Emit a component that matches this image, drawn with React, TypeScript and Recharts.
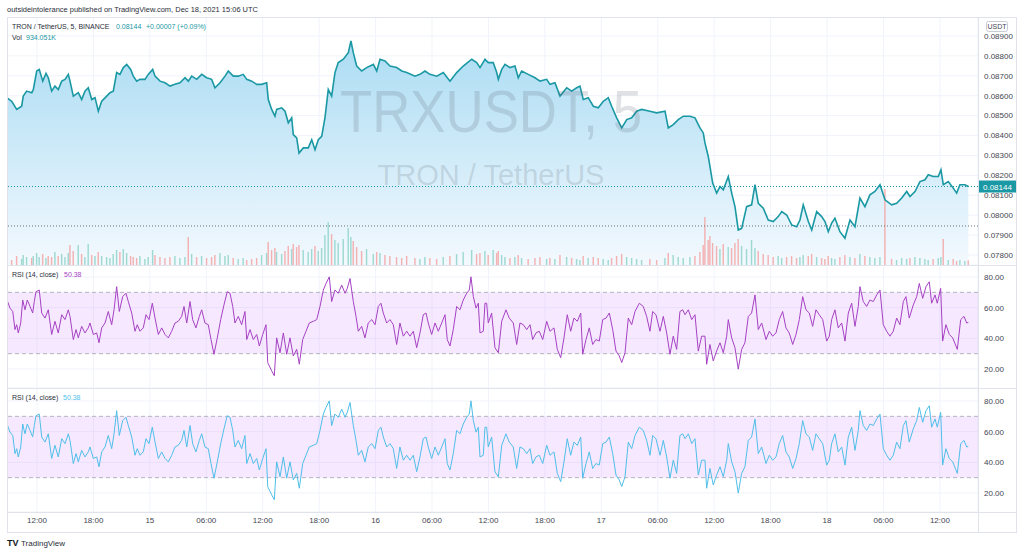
import React from "react";
import {
  ComposedChart,
  LineChart,
  Area,
  Bar,
  Line,
  Cell,
  XAxis,
  YAxis,
  CartesianGrid,
  ReferenceLine,
  ReferenceArea,
} from "recharts";

// hours counted from Dec 14 00:00 UTC
const priceHours = [
  8.78, 9.31, 9.84, 10.37, 10.54, 10.9, 11.44, 11.61, 11.97, 12.24,
  12.61, 12.96, 13.2, 13.56, 13.91, 14.26, 14.63, 14.98, 15.33, 15.51,
  15.86, 16.39, 16.75, 17.1, 17.45, 17.82, 18.17, 18.52, 18.88, 19.41,
  19.76, 20.11, 20.47, 20.82, 21.18, 21.54, 21.96, 22.24, 22.6, 22.95,
  23.48, 23.83, 24.3, 24.55, 25.08, 25.61, 26.14, 26.67, 27.2, 27.74,
  28.09, 28.45, 28.98, 29.51, 30.04, 30.57, 30.92, 31.46, 31.99, 32.34,
  32.87, 33.4, 33.93, 34.3, 34.83, 35.36, 35.89, 36.42, 36.59, 36.95,
  37.3, 37.48, 38.02, 38.37, 38.72, 39.08, 39.25, 39.61, 39.86, 40.31,
  40.84, 41.21, 41.56, 41.91, 42.27, 42.62, 42.97, 43.33, 43.68, 44.03,
  44.57, 45.1, 45.38, 45.63, 45.99, 46.52, 47.05, 47.76, 48.12, 48.47,
  49.0, 49.53, 50.24, 50.78, 51.31, 52.19, 52.72, 53.25, 53.78, 54.5,
  55.2, 55.91, 56.62, 57.32, 58.22, 58.75, 59.1, 59.63, 59.98, 60.51,
  60.88, 61.05, 61.41, 61.76, 62.29, 62.82, 63.17, 63.53, 64.23, 64.95,
  65.48, 66.19, 66.54, 67.07, 67.61, 68.32, 68.85, 69.38, 69.73, 70.08,
  70.61, 71.15, 71.68, 72.21, 72.74, 73.1, 73.63, 74.17, 74.7, 75.23,
  75.76, 76.29, 77.17, 77.89, 78.77, 79.12, 79.65, 80.18, 80.72, 81.43,
  81.96, 82.49, 82.84, 83.02, 83.37, 83.55, 83.84, 84.26, 84.62, 84.97,
  85.5, 85.86, 86.21, 86.56, 86.92, 87.45, 87.98, 88.34, 88.69, 89.22,
  89.75, 90.28, 90.81, 91.18, 91.71, 92.24, 92.77, 93.12, 93.47, 94.01,
  94.37, 94.9, 95.43, 95.78, 96.13, 96.49, 96.84, 97.37, 97.9, 98.44,
  98.97, 99.5, 100.03, 100.56, 101.09, 101.63, 102.16, 102.87, 103.4, 103.94,
  104.47, 104.82, 105.35, 105.88, 106.41, 106.76, 107.29, 107.83, 108.11, 108.36,
  108.89, 109.42, 109.78, 110.13, 110.66, 111.02,
];

const priceCloses = [
  0.0859, 0.08572, 0.08531, 0.08547, 0.08598, 0.08623, 0.08615, 0.08631, 0.08724, 0.08732,
  0.08673, 0.08712, 0.0869, 0.08623, 0.08648, 0.08631, 0.08673, 0.08682, 0.08707, 0.08673,
  0.08598, 0.08615, 0.08581, 0.08623, 0.0864, 0.08581, 0.0859, 0.08522, 0.08572, 0.08598,
  0.08615, 0.08623, 0.08716, 0.08707, 0.08741, 0.08757, 0.08732, 0.08698, 0.08673, 0.08682,
  0.08682, 0.08707, 0.08732, 0.08698, 0.08673, 0.08665, 0.08648, 0.08657, 0.08665, 0.0869,
  0.08673, 0.08698, 0.08682, 0.08707, 0.0869, 0.08682, 0.0864, 0.08665, 0.08698, 0.08724,
  0.08698, 0.08698, 0.08707, 0.08682, 0.08673, 0.08657, 0.08657, 0.08665, 0.08581, 0.08531,
  0.08497, 0.08531, 0.08539, 0.08522, 0.08464, 0.08489, 0.08405, 0.08388, 0.08312, 0.08338,
  0.08338, 0.08379, 0.08329, 0.08379, 0.08396, 0.0849, 0.08631, 0.08598, 0.08716, 0.08766,
  0.08783, 0.08816, 0.08875, 0.08816, 0.08749, 0.08724, 0.08741, 0.08757, 0.08724, 0.08783,
  0.08774, 0.08749, 0.08741, 0.08724, 0.08716, 0.08698, 0.08707, 0.08724, 0.08707, 0.08698,
  0.08716, 0.08673, 0.08716, 0.08749, 0.08783, 0.08766, 0.08741, 0.08783, 0.08766, 0.08766,
  0.08716, 0.08682, 0.08732, 0.08757, 0.08741, 0.08749, 0.0869, 0.08724, 0.08707, 0.0869,
  0.08673, 0.08682, 0.08657, 0.08665, 0.08598, 0.0864, 0.08623, 0.0864, 0.08648, 0.08581,
  0.0859, 0.08547, 0.08539, 0.08572, 0.0859, 0.08547, 0.08489, 0.08438, 0.0848, 0.08489,
  0.08522, 0.08531, 0.08522, 0.08514, 0.08522, 0.08438, 0.08455, 0.0848, 0.08497, 0.08497,
  0.08489, 0.08438, 0.08413, 0.08363, 0.08295, 0.08245, 0.08161, 0.08111, 0.08144, 0.08127,
  0.08194, 0.08111, 0.08043, 0.07926, 0.07934, 0.08043, 0.08052, 0.08153, 0.0806, 0.08035,
  0.07976, 0.07968, 0.07993, 0.08018, 0.08001, 0.07951, 0.07942, 0.07976, 0.08052, 0.07968,
  0.07926, 0.08018, 0.07993, 0.07968, 0.07917, 0.0796, 0.07985, 0.07917, 0.07884, 0.07976,
  0.07942, 0.08086, 0.08043, 0.08102, 0.08119, 0.08153, 0.08077, 0.08052, 0.0806, 0.08086,
  0.08119, 0.08094, 0.08119, 0.08169, 0.08178, 0.08203, 0.08194, 0.08194, 0.08228, 0.08153,
  0.08169, 0.08136, 0.08111, 0.08153, 0.08153, 0.08144,
];

// volume in thousands of TRX
const volumesK = [
  1400, 1000, 1800, 1200, 2000, 1600, 1400, 1800, 2400, 1600,
  2200, 1400, 1800, 1600, 2600, 1800, 2200, 1600, 2400, 4000,
  2800, 4000, 2200, 1600, 4200, 2000, 1800, 2600, 1800, 1600,
  1400, 2200, 3000, 2600, 3200, 2400, 1800, 1600, 1400, 1800,
  1200, 1600, 3000, 2000, 1600, 1400, 1600, 1800, 1400, 1600,
  5600, 2200, 1600, 1800, 1400, 1600, 2000, 2400, 1800, 2000,
  1400, 1200, 1400, 1000, 1200, 1400, 2000, 2400, 4600, 3000,
  3400, 2600, 2200, 2800, 3800, 3200, 4200, 3600, 4000, 3000,
  2600, 3200, 3800, 2800, 3400, 6000, 8600, 6200, 5000, 4400,
  5200, 7400, 5600, 4800, 3600, 2800, 3200, 2200, 2600, 2400,
  2000, 1800, 1600, 1400, 1800, 1400, 1200, 1600, 1400, 1200,
  1600, 1800, 2200, 2600, 3000, 2200, 2400, 2800, 2000, 3000,
  2400, 2800, 2000, 1600, 1400, 1600, 2000, 1400, 1200, 1400,
  1600, 1200, 1400, 1200, 2000, 1600, 1400, 1200, 1000, 1800,
  1400, 1600, 1400, 1200, 1000, 1400, 1800, 2200, 1600, 1400,
  1200, 1000, 1200, 1000, 1400, 2400, 2000, 1600, 1400, 1600,
  1800, 2600, 4000, 9600, 5000, 5800, 4400, 3800, 3200, 4200,
  3600, 3400, 4400, 5200, 3800, 3200, 5000, 3400, 2800, 2200,
  2000, 1600, 1800, 1400, 1600, 1800, 1400, 1600, 2000, 1800,
  2200, 1600, 1400, 1200, 1800, 1400, 1200, 1600, 2000, 1600,
  1400, 2200, 1800, 1600, 1400, 1600, 15200, 1200, 1000, 1400,
  1200, 1400, 1600, 1400, 1200, 1000, 1200, 1400, 1600, 5200,
  1000, 1200, 800, 1000, 800, 934,
];

const rsiHours = [
  8.78, 9.13, 9.42, 9.66, 9.84, 10.01, 10.27, 10.48, 10.72, 10.97,
  11.26, 11.54, 11.71, 11.89, 12.24, 12.5, 12.85, 13.2, 13.56, 13.91,
  14.26, 14.63, 14.98, 15.33, 15.51, 15.86, 16.15, 16.39, 16.75, 17.1,
  17.45, 17.63, 17.99, 18.35, 18.59, 18.88, 19.23, 19.58, 19.94, 20.19,
  20.47, 20.75, 21.11, 21.46, 21.71, 22.07, 22.42, 22.66, 22.95, 23.3,
  23.59, 23.91, 24.26, 24.55, 24.9, 25.26, 25.61, 25.96, 26.32, 26.67,
  27.02, 27.38, 27.63, 27.92, 28.27, 28.55, 28.9, 29.26, 29.51, 29.86,
  30.21, 30.5, 30.82, 31.17, 31.53, 31.88, 32.23, 32.52, 32.81, 33.05,
  33.4, 33.76, 34.11, 34.3, 34.65, 35.0, 35.36, 35.64, 36.0, 36.35,
  36.53, 36.95, 37.23, 37.48, 37.84, 38.19, 38.55, 38.9, 39.25, 39.61,
  39.89, 40.25, 40.6, 40.95, 41.38, 41.74, 42.09, 42.44, 42.73, 43.08,
  43.33, 43.68, 44.03, 44.4, 44.75, 44.99, 45.28, 45.63, 45.92, 46.16,
  46.52, 46.87, 47.22, 47.59, 47.94, 48.29, 48.57, 48.82, 49.18, 49.53,
  49.88, 50.24, 50.59, 50.95, 51.31, 51.66, 52.01, 52.37, 52.72, 53.07,
  53.36, 53.6, 53.96, 54.32, 54.67, 55.03, 55.38, 55.62, 55.91, 56.26,
  56.62, 56.97, 57.32, 57.69, 57.96, 58.14, 58.39, 58.68, 58.92, 59.1,
  59.45, 59.63, 59.81, 59.98, 60.34, 60.69, 61.05, 61.41, 61.86, 62.21,
  62.64, 63.0, 63.35, 63.7, 64.07, 64.42, 64.7, 65.05, 65.4, 65.77,
  66.19, 66.54, 66.97, 67.32, 67.68, 68.03, 68.38, 68.74, 69.09, 69.45,
  69.81, 70.02, 70.37, 70.72, 71.08, 71.43, 71.78, 72.15, 72.5, 72.85,
  73.21, 73.56, 73.91, 74.17, 74.52, 74.87, 75.23, 75.58, 76.04, 76.46,
  76.82, 77.17, 77.46, 77.81, 78.24, 78.59, 78.95, 79.3, 79.65, 80.01,
  80.36, 80.65, 80.9, 81.25, 81.61, 81.96, 82.31, 82.67, 83.02, 83.2,
  83.55, 83.9, 84.26, 84.62, 84.97, 85.33, 85.5, 85.86, 86.21, 86.56,
  86.92, 87.27, 87.63, 87.98, 88.34, 88.69, 89.05, 89.51, 89.86, 90.22,
  90.57, 90.92, 91.28, 91.63, 91.98, 92.35, 92.7, 93.05, 93.41, 93.76,
  94.11, 94.47, 94.82, 95.17, 95.54, 95.96, 96.24, 96.49, 96.84, 97.19,
  97.56, 97.91, 98.26, 98.62, 98.97, 99.32, 99.5, 99.85, 100.21, 100.56,
  100.92, 101.28, 101.63, 101.98, 102.34, 102.69, 103.04, 103.4, 103.75, 104.11,
  104.39, 104.74, 105.17, 105.53, 105.81, 106.17, 106.52, 106.87, 107.12, 107.48,
  107.72, 108.08, 108.29, 108.64, 109.0, 109.36, 109.85, 110.21, 110.56, 110.85,
  111.02,
];

const rsiValues = [
  65.5, 59.7, 57.5, 45.7, 48.9, 43.5, 50, 65, 58.6, 65,
  60.8, 56.5, 64, 70.4, 71.5, 56.5, 53.2, 58.6, 42.5, 51.1,
  43.5, 55.4, 52.2, 58.6, 54.3, 39.2, 45.7, 40.3, 47.8, 43.5,
  46.8, 50, 42.5, 43.5, 37.1, 46.8, 50, 57.5, 48.9, 58.6,
  73.7, 57.5, 67.2, 69.4, 64, 56.5, 44.6, 48.9, 44.6, 46.8,
  55.4, 52.2, 62.9, 53.2, 42.5, 46.8, 42.5, 40.3, 44.6, 50,
  51.1, 54.3, 60.8, 50, 64, 52.2, 46.8, 54.3, 58.6, 50,
  48.9, 39.2, 29.6, 40.3, 52.2, 61.8, 70.4, 69.4, 60.8, 50,
  54.3, 48.9, 57.5, 39.2, 45.7, 39.2, 42.5, 35, 42.5, 48.9,
  24.2, 18.8, 15.6, 40.3, 30.6, 43.5, 29.6, 40.3, 28.5, 32.8,
  23.1, 39.2, 44.6, 50, 51.1, 52.2, 60.8, 71.5, 75.8, 80.1,
  64, 71.5, 69.4, 74.7, 69.4, 72.6, 79, 64, 54.3, 44.6,
  47.8, 40.3, 50, 52.2, 48.9, 60.8, 62.9, 56.5, 50, 52.2,
  48.9, 36, 50, 41.4, 44.6, 41.4, 44.6, 33.9, 43.5, 55.4,
  56.5, 50, 42.5, 50, 44.6, 50, 55.4, 39.2, 35, 45.7,
  60.8, 58.6, 65, 69.4, 71.5, 80.1, 67.2, 59.7, 62.9, 43.5,
  44.6, 62.9, 62.9, 50, 56.5, 33.9, 30.6, 51.1, 58.6, 53.2,
  50, 36, 50, 48.9, 45.7, 48.9, 39.2, 43.5, 44.6, 39.2,
  51.1, 44.6, 46.8, 32.8, 27.4, 40.3, 55.4, 44.6, 53.2, 51.1,
  56.5, 29.6, 39.2, 46.8, 36, 39.2, 38.2, 52.2, 53.2, 56.5,
  45.7, 31.7, 28.5, 24.2, 30.6, 53.2, 48.9, 57.5, 62.9, 60.8,
  54.3, 44.6, 57.5, 55.4, 44.6, 54.3, 43.5, 29.6, 41.4, 32.8,
  57.5, 58.6, 55.4, 58.6, 52.2, 55.4, 31.7, 41.4, 41.4, 23.1,
  36, 25.3, 31.7, 37.1, 30.6, 41.4, 52.2, 40.3, 33.9, 19.9,
  32.8, 37.1, 54.3, 56.5, 68.3, 45.7, 50, 39.2, 44.6, 41.4,
  43.5, 52.2, 57.5, 46.8, 43.5, 36, 42.5, 52.2, 67.2, 58.6,
  56.5, 47.8, 58.6, 55.4, 52.2, 38.2, 41.4, 52.2, 58.6, 46.8,
  50, 38.2, 56.5, 62.9, 47.8, 60.8, 73.7, 64, 60.8, 65,
  64, 68.3, 71.5, 48.9, 44.6, 41.4, 44.6, 53.2, 48.9, 64,
  67.2, 53.2, 61.8, 67.2, 75.8, 66.1, 73.7, 76.9, 62.9, 68.3,
  62.9, 72.6, 38.2, 48.9, 42.5, 40.3, 32.8, 52.2, 54.3, 50,
  50.38,
];

const priceTicks = [0.078, 0.079, 0.08, 0.081, 0.082, 0.083, 0.084, 0.085, 0.086, 0.087, 0.088, 0.089];
const rsiTicks = [20, 40, 60, 80];
const timeTicks = [12, 18, 24, 30, 36, 42, 48, 54, 60, 66, 72, 78, 84, 90, 96, 102, 108];
const lastPrice = 0.08144;
const markedLevel = 0.07946;

const priceData = priceHours.map((t, i) => ({
  t,
  close: priceCloses[i],
  vol: volumesK[i] ?? 0,
  up: i === 0 || priceCloses[i] >= priceCloses[i - 1],
}));
const rsiData = rsiHours.map((t, i) => ({ t, rsi: rsiValues[i] }));

const FONT = "'Liberation Sans', Arial, sans-serif";
const TEAL = "#1a98a3";
const PURPLE = "#a641c4";
const SKY = "#4fbfe9";
const GRID = "#f0f3fa";
const BORDER = "#e0e3eb";
const TEXT = "#434651";
const timeDomain: [number, number] = [8.81, 112.05];
const tickStyle = { fontSize: 8, fill: TEXT, fontFamily: FONT };

const fmtTime = (h: number) => {
  const day = Math.floor(h / 24);
  const hh = h - day * 24;
  if (hh === 0) return String(14 + day);
  return String(hh).padStart(2, "0") + ":00";
};

const PriceTag = (props: any) => {
  const vb = props.viewBox || {};
  const x = vb.x + vb.width;
  const y = vb.y;
  return (
    <g>
      <rect x={x + 1} y={y - 6} width={37} height={12} fill={TEAL} />
      <text x={x + 5} y={y + 3} fontSize={8} fill="#fff" fontFamily={FONT}>
        {lastPrice.toFixed(5)}
      </text>
    </g>
  );
};

const RsiPane = ({ color, height, domainTop, withTime }: any) => (
  <LineChart width={1010} height={height} data={rsiData} margin={{ top: 0, right: 0, bottom: 0, left: 0 }}>
    <CartesianGrid stroke={GRID} />
    <XAxis
      type="number"
      dataKey="t"
      domain={timeDomain}
      ticks={timeTicks}
      allowDataOverflow
      hide={!withTime}
      height={21}
      interval={0}
      tickFormatter={fmtTime}
      axisLine={false}
      tickLine={false}
      tickSize={3}
      tickMargin={2}
      tick={tickStyle}
    />
    <YAxis
      orientation="right"
      width={39}
      domain={[7.6, domainTop]}
      ticks={rsiTicks}
      interval={0}
      allowDataOverflow
      tickFormatter={(v: number) => v.toFixed(2)}
      axisLine={false}
      tickLine={false}
      tickSize={4}
      tickMargin={2}
      tick={tickStyle}
    />
    <ReferenceArea y1={30} y2={70} fill="#c77dff" fillOpacity={0.17} stroke="none" />
    <ReferenceLine y={70} stroke="#b2b5be" strokeDasharray="4 3" />
    <ReferenceLine y={30} stroke="#b2b5be" strokeDasharray="4 3" />
    <Line type="linear" dataKey="rsi" stroke={color} strokeWidth={1} dot={false} isAnimationActive={false} />
  </LineChart>
);

export default function App() {
  return (
    <div style={{ position: "absolute", left: 0, top: 0, width: 1024, height: 551, background: "#fff", overflow: "hidden", fontFamily: FONT }}>
      <div style={{ position: "absolute", left: 7, top: 17 }}>
        <ComposedChart width={1010} height={248} data={priceData} margin={{ top: 0, right: 0, bottom: 0, left: 0 }}>
          <defs>
            <linearGradient id="priceFill" x1="0" y1="0" x2="0" y2="1">
              <stop offset="0%" stopColor="#abdcf3" />
              <stop offset="100%" stopColor="#f3f9fe" />
            </linearGradient>
          </defs>
          <CartesianGrid stroke={GRID} yAxisId="price" />
          <XAxis type="number" dataKey="t" domain={timeDomain} ticks={timeTicks} allowDataOverflow hide />
          <YAxis
            yAxisId="price"
            orientation="right"
            width={39}
            domain={[0.0775, 0.08995]}
            ticks={priceTicks}
            interval={0}
            allowDataOverflow
            tickFormatter={(v: number) => v.toFixed(5)}
            axisLine={false}
            tickLine={false}
            tickSize={4}
            tickMargin={2}
            tick={tickStyle}
          />
          <YAxis yAxisId="vol" hide domain={[0, 49600]} />
          <Area yAxisId="price" type="linear" dataKey="close" stroke="none" fill="url(#priceFill)" fillOpacity={1} isAnimationActive={false} />
          <Bar yAxisId="vol" dataKey="vol" barSize={3} isAnimationActive={false}>
            {priceData.map((d, i) => (
              <Cell key={`v-${i}`} fill={d.up ? "#8fd3c9" : "#f5a5a4"} fillOpacity={0.85} />
            ))}
          </Bar>
          <ReferenceLine yAxisId="price" y={markedLevel} stroke="#6a6d78" strokeDasharray="1 2" />
          <ReferenceLine yAxisId="price" y={lastPrice} stroke={TEAL} strokeDasharray="1 2" label={<PriceTag />} />
          <Line yAxisId="price" type="linear" dataKey="close" stroke={TEAL} strokeWidth={1.6} dot={false} isAnimationActive={false} />
        </ComposedChart>
      </div>
      <div style={{ position: "absolute", left: 7, top: 265 }}>
        <RsiPane color={PURPLE} height={123} domainTop={87.83} withTime={false} />
      </div>
      <div style={{ position: "absolute", left: 7, top: 388 }}>
        <RsiPane color={SKY} height={145} domainTop={88.48} withTime={true} />
      </div>

      {/* pane frame and separators */}
      <div style={{ position: "absolute", left: 7, top: 17, width: 1010, height: 516, border: `1px solid ${BORDER}`, boxSizing: "border-box" }} />
      <div style={{ position: "absolute", left: 7, top: 265, width: 1010, height: 1, background: BORDER }} />
      <div style={{ position: "absolute", left: 7, top: 388, width: 1010, height: 1, background: BORDER }} />
      <div style={{ position: "absolute", left: 7, top: 512, width: 1010, height: 1, background: BORDER }} />
      <div style={{ position: "absolute", left: 978, top: 17, width: 1, height: 516, background: BORDER }} />

      <svg width={1024} height={551} style={{ position: "absolute", left: 0, top: 0, pointerEvents: "none" }} fontFamily={FONT}>
        <text x={7} y={12} fontSize={8} fill="#2a2e39" textLength={251} lengthAdjust="spacingAndGlyphs">
          outsideintolerance published on TradingView.com, Dec 18, 2021 15:06 UTC
        </text>
        <text x={12} y={29} fontSize={7} fill="#2a2e39">TRON / TetherUS, 5, BINANCE</text>
        <text x={116} y={29} fontSize={7} fill={TEAL}>0.08144</text>
        <text x={146} y={29} fontSize={7} fill={TEAL}>+0.00007 (+0.09%)</text>
        <text x={12} y={40} fontSize={7} fill="#2a2e39">Vol</text>
        <text x={26} y={40} fontSize={7} fill={TEAL}>934.051K</text>

        <text x={491} y={132} fontSize={60} fill="#5d6b78" fillOpacity={0.2} textAnchor="middle" textLength={302} lengthAdjust="spacingAndGlyphs">
          TRXUSDT, 5
        </text>
        <text x={491} y={185} fontSize={30} fill="#5d6b78" fillOpacity={0.2} textAnchor="middle" textLength={227} lengthAdjust="spacingAndGlyphs">
          TRON / TetherUS
        </text>

        <rect x={986.5} y={21.5} width={21} height={10} rx={2} fill="#fff" stroke="#c9ccd4" />
        <text x={997} y={29} fontSize={7} fill={TEXT} textAnchor="middle">USDT</text>

        <text x={12} y={277} fontSize={7} fill="#2a2e39">RSI (14, close)</text>
        <text x={64} y={277} fontSize={7} fill={PURPLE}>50.38</text>
        <text x={12} y={400} fontSize={7} fill="#2a2e39">RSI (14, close)</text>
        <text x={63} y={400} fontSize={7} fill={SKY}>50.38</text>

        <text x={7} y={546} fontSize={9} fontWeight="bold" fill="#131722">TV</text>
        <text x={21} y={546} fontSize={8} fill="#2a2e39">TradingView</text>
      </svg>
    </div>
  );
}
